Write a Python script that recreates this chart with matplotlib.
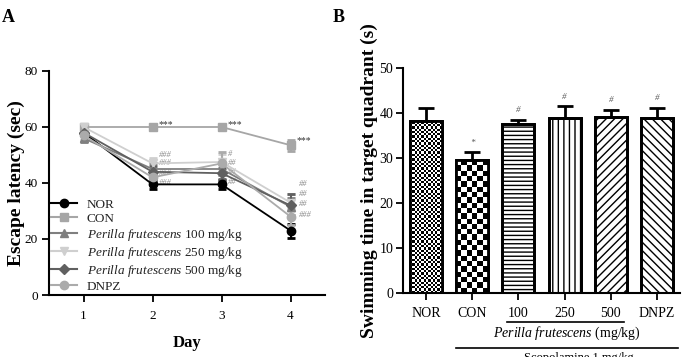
import numpy as np
import matplotlib
matplotlib.use("Agg")
import matplotlib.pyplot as plt
from matplotlib.lines import Line2D
import matplotlib.transforms as mtransforms

plt.rcParams['font.family'] = ['Liberation Serif', 'DejaVu Serif']
plt.rcParams['mathtext.fontset'] = 'custom'
plt.rcParams['mathtext.it'] = 'Liberation Serif:italic'
plt.rcParams['mathtext.rm'] = 'Liberation Serif'
plt.rcParams['hatch.linewidth'] = 1.0

# ---------------- Panel A data ----------------
days = [1, 2, 3, 4]
groups_a = ['NOR', 'CON', 'PF100', 'PF250', 'PF500', 'DNPZ']
labels_a = ['NOR', 'CON',
            r'$\mathit{Perilla\ frutescens}$ 100 mg/kg',
            r'$\mathit{Perilla\ frutescens}$ 250 mg/kg',
            r'$\mathit{Perilla\ frutescens}$ 500 mg/kg',
            'DNPZ']
nor_vals = [58, 39.5, 39.5, 23]
nor_err = [1, 1.5, 1.5, 2.5]
con_vals = [60, 60, 60, 53.5]
con_err = [0.3, 0.3, 0.3, 2]
pf100_vals = [56, 45, 45, 31.5]
pf100_err = [1.5, 2, 2, 3]
pf250_vals = [60, 47, 47.5, 33]
pf250_err = [0.5, 2, 3, 3]
pf500_vals = [58, 44, 43.5, 32]
pf500_err = [1, 2, 2, 4]
dnpz_vals = [57, 42, 47, 28]
dnpz_err = [1.5, 2, 4, 3]

vals_a = [nor_vals, con_vals, pf100_vals, pf250_vals, pf500_vals, dnpz_vals]
errs_a = [nor_err, con_err, pf100_err, pf250_err, pf500_err, dnpz_err]
colors_a = ['#000000', '#a6a6a6', '#7f7f7f', '#cfcfcf', '#606060', '#ababab']
markers_a = ['o', 's', '^', 'v', 'D', 'o']
msizes = [6, 6, 6, 6, 5, 6]

# significance labels (day 2, 3, 4) with their label heights
con_sig = ['***', '***', '***']
sig_day2 = ['###', '###', '###', '###']
sig_day2_y = [50, 47, 43.5, 40]
sig_day3 = ['#', '##', '##', '##']
sig_day3_y = [50.5, 47, 44, 40.5]
sig_day4 = ['##', '##', '##', '###']
sig_day4_y = [39.5, 36, 32.5, 28.5]

# ---------------- Panel B data ----------------
cats_b = ['NOR', 'CON', '100', '250', '500', 'DNPZ']
vals_b = [38.3, 29.5, 37.5, 38.8, 39.2, 39.0]
errs_b = [2.8, 1.8, 1.0, 2.7, 1.5, 2.2]
sig_b = ['', '*', '#', '#', '#', '#']

fig = plt.figure(figsize=(6.91, 3.57), dpi=100)

# ---------------- Panel A ----------------
axA = fig.add_axes([49/691, 1-295/357, (325-49)/691, (295-71)/357])
for v, e, c, m, ms in zip(vals_a, errs_a, colors_a, markers_a, msizes):
    axA.errorbar(days, v, yerr=e, color=c, marker=m, markersize=ms, lw=1.3,
                 capsize=3, capthick=2, elinewidth=1.5, zorder=3)
axA.set_xlim(0.5, 4.5)
axA.set_ylim(0, 80)
axA.set_yticks([0, 20, 40, 60, 80])
axA.set_xticks(days)
for s in ['top', 'right']:
    axA.spines[s].set_visible(False)
for s in ['left', 'bottom']:
    axA.spines[s].set_linewidth(1.5)
axA.tick_params(width=1.3, length=5, labelsize=9.5)
axA.tick_params(axis='x', pad=6)
axA.tick_params(axis='y', pad=3)
axA.set_ylabel('Escape latency (sec)', fontsize=14, fontweight='bold', labelpad=0)
axA.set_xlabel('Day', fontsize=12, fontweight='bold', labelpad=9)

# significance marks
for d, s, v in zip(days[1:], con_sig, con_vals[1:]):
    axA.text(d + 0.08, v + 0.8 if d < 4 else v + 1.5, s, fontsize=7, color='#333333', va='center', ha='left')
for s, y in zip(sig_day2, sig_day2_y):
    axA.text(2.1, y, s, fontsize=6, color='#8a8a8a', style='italic', va='center', ha='left')
for s, y in zip(sig_day3, sig_day3_y):
    axA.text(3.1, y, s, fontsize=6, color='#8a8a8a', style='italic', va='center', ha='left')
for s, y in zip(sig_day4, sig_day4_y):
    axA.text(4.12, y, s, fontsize=6, color='#8a8a8a', style='italic', va='center', ha='left')

handles = [Line2D([], [], color=c, marker=m, markersize=ms, lw=1.5)
           for c, m, ms in zip(colors_a, markers_a, msizes)]
leg = axA.legend(handles, labels_a, loc='lower left', bbox_to_anchor=(0.0, 0.0),
                 frameon=False, fontsize=9.5, handlelength=2.0, handletextpad=0.7,
                 labelspacing=0.15, borderaxespad=0.05, borderpad=0.1)
for t in leg.get_texts():
    t.set_color('#222222')

fig.text(2/691, 1-18/357, 'A', fontsize=13, fontweight='bold', va='center', ha='left')
fig.text(333/691, 1-18/357, 'B', fontsize=13, fontweight='bold', va='center', ha='left')

# ---------------- Panel B ----------------
axB = fig.add_axes([403/691, 1-293/357, (680-403)/691, (293-68)/357])
x = np.arange(len(cats_b))
width = 0.69
hatches = [None, None, '----', '|||', '////', '\\\\\\\\']
bars = axB.bar(x, vals_b, width=width, color='white', edgecolor='black', linewidth=2, zorder=2)
for b, h in zip(bars, hatches):
    if h:
        b.set_hatch(h)
axB.set_xlim(-0.5, 5.5)
axB.set_ylim(0, 50)

# checker patterns for NOR and CON
fig.canvas.draw()
ncols_list = [14, 6]
for idx, ncol in zip([0, 1], ncols_list):
    b = bars[idx]
    x0, w, h = b.get_x(), b.get_width(), b.get_height()
    p0 = axB.transData.transform((x0, 0))
    p1 = axB.transData.transform((x0 + w, h))
    wpx, hpx = p1[0] - p0[0], p1[1] - p0[1]
    cell = wpx / ncol
    nrow = int(np.ceil(hpx / cell))
    ii, jj = np.indices((nrow, ncol))
    checker = ((ii + jj) % 2).astype(float)
    top = nrow * cell / hpx * h
    im = axB.imshow(checker, cmap='gray_r', vmin=0, vmax=1, extent=(x0, x0 + w, 0, top),
                    origin='lower', interpolation='nearest', aspect='auto', zorder=2.5)
    im.set_clip_path(b)
# redraw outlines on top
axB.bar(x, vals_b, width=width, fill=False, edgecolor='black', linewidth=2, zorder=2.8)
axB.set_xlim(-0.5, 5.5)
axB.set_ylim(0, 50)

axB.errorbar(x, vals_b, yerr=[np.zeros(len(errs_b)), errs_b], fmt='none',
             ecolor='black', elinewidth=2, capsize=6, capthick=2, zorder=3)
for xi, v, e, s in zip(x, vals_b, errs_b, sig_b):
    if s:
        axB.text(xi, v + e + 1.2, s, fontsize=6.5, color='#555555', ha='center', va='bottom',
                 style='italic')

axB.set_xticks(x)
axB.set_xticklabels(cats_b)
axB.set_yticks([0, 10, 20, 30, 40, 50])
for s in ['top', 'right']:
    axB.spines[s].set_visible(False)
for s in ['left', 'bottom']:
    axB.spines[s].set_linewidth(1.5)
axB.tick_params(width=1.3, length=5, labelsize=10)
axB.tick_params(axis='x', pad=5)
axB.tick_params(axis='y', pad=2)
axB.set_ylabel('Swimming time in target quadrant (s)', fontsize=14, fontweight='bold', labelpad=1)

trans = mtransforms.blended_transform_factory(axB.transData, axB.transAxes)
axB.plot([2 - 0.25, 4 + 0.28], [-0.129, -0.129], color='black', lw=1.2, transform=trans, clip_on=False)
axB.text(3.05, -0.178, r'$\mathit{Perilla\ frutescens}$ (mg/kg)', fontsize=10, ha='center', va='center',
         transform=trans)
axB.plot([0.65, 5.45], [-0.245, -0.245], color='black', lw=1.2, transform=trans, clip_on=False)
axB.text(3.3, -0.262, 'Scopolamine 1 mg/kg', fontsize=9, ha='center', va='top', transform=trans)

fig.savefig('out.png', dpi=100)
